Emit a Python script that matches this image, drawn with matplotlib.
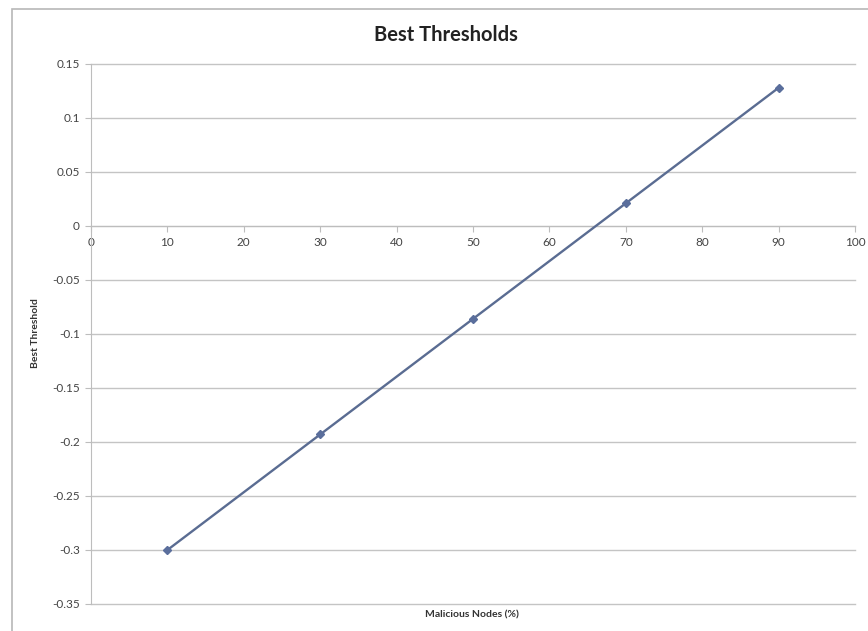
import matplotlib
matplotlib.use("Agg")
import matplotlib.pyplot as plt
from matplotlib.patches import Rectangle

plt.rcParams['font.family'] = ['Lato', 'DejaVu Sans']

# data
malicious_pct = [10, 30, 50, 70, 90]
best_threshold = [-0.3, -0.193, -0.086, 0.021, 0.128]
y_ticks = [-0.35, -0.3, -0.25, -0.2, -0.15, -0.1, -0.05, 0, 0.05, 0.1, 0.15]
y_tick_labels = ['-0.35', '-0.3', '-0.25', '-0.2', '-0.15', '-0.1', '-0.05', '0', '0.05', '0.1', '0.15']
x_ticks = [0, 10, 20, 30, 40, 50, 60, 70, 80, 90, 100]

fig = plt.figure(figsize=(8.68, 6.31), dpi=100)
# chart area border, like the excel chart frame
fig.patches.append(Rectangle((12 / 868, -0.01), 1.0, 1 - 9 / 631 + 0.01,
                             transform=fig.transFigure, fill=False,
                             edgecolor='#b8b8b8', linewidth=1.2))

ax = fig.add_axes([91 / 868, 1 - 604 / 631, (855 - 91) / 868, (604 - 64) / 631])

ax.plot(malicious_pct, best_threshold, color='#5a6c92', linewidth=1.7,
        marker='D', markersize=4.5, markerfacecolor='#5a6e9c',
        markeredgecolor='#5a6e9c', zorder=3)

ax.set_xlim(0, 100)
ax.set_ylim(-0.35, 0.15)
ax.set_yticks(y_ticks)
ax.set_yticklabels(y_tick_labels)
ax.set_xticks(x_ticks)

ax.grid(axis='y', color='#c4c4c4', linewidth=1.0)
for gl in ax.get_ygridlines():
    gl.set_clip_on(False)
ax.set_axisbelow(True)

for s in ['top', 'right']:
    ax.spines[s].set_visible(False)
ax.spines['left'].set_color('#bdbdbd')
ax.spines['bottom'].set_position(('data', 0))
ax.spines['bottom'].set_color('#bdbdbd')

ax.tick_params(axis='y', length=4, color='#bdbdbd', labelsize=8.5,
               labelcolor='#444444', pad=4)
ax.tick_params(axis='x', length=4, color='#bdbdbd', labelsize=8.5,
               labelcolor='#444444', direction='out', pad=4)

fig.text(446 / 868, 1 - 35 / 631, 'Best Thresholds',
         ha='center', va='center', fontsize=14.5, fontweight='bold', color='#222222')
fig.text(36 / 868, 1 - 333 / 631, 'Best Threshold', rotation=90,
         ha='center', va='center', fontsize=7.5, fontweight='bold', color='#333333')
fig.text(472 / 868, 1 - 615 / 631, 'Malicious Nodes (%)',
         ha='center', va='center', fontsize=7.5, fontweight='bold', color='#333333')

fig.savefig('out.png', dpi=100)
